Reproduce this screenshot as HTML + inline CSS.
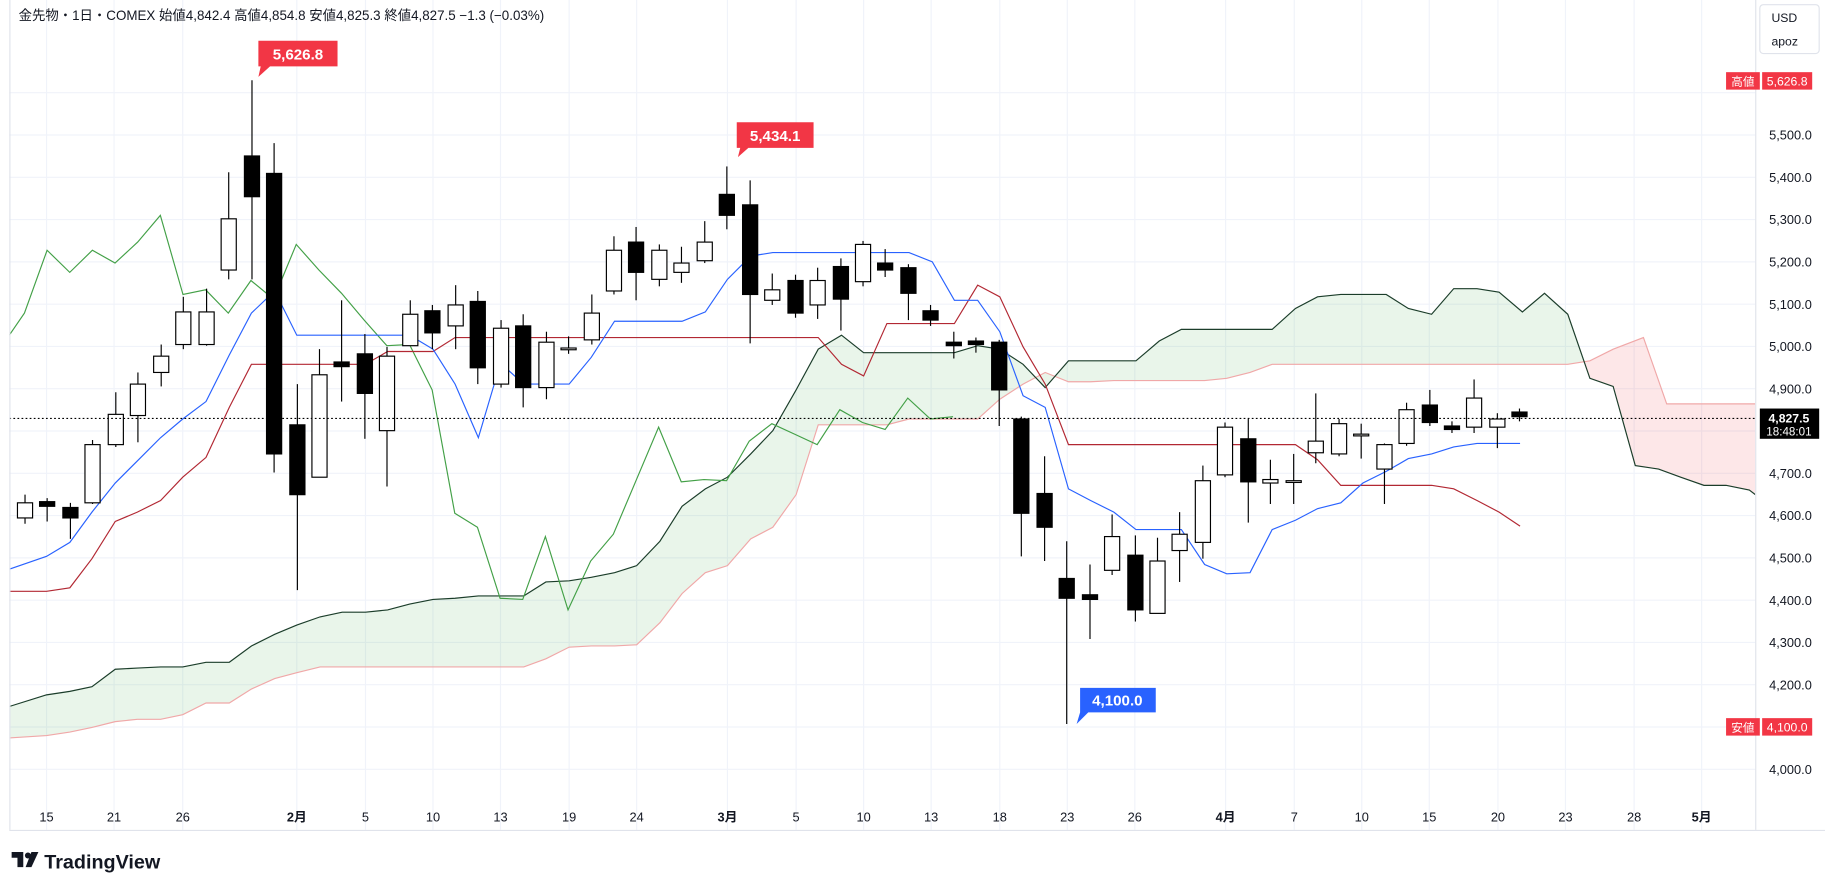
<!DOCTYPE html>
<html><head><meta charset="utf-8"><style>
html,body{margin:0;padding:0;background:#fff;}
svg{display:block;}
text{font-family:"Liberation Sans","Noto Sans CJK JP",sans-serif;}
</style></head><body>
<svg id="s" width="1825" height="884" viewBox="0 0 1568 759.5" preserveAspectRatio="none" xmlns="http://www.w3.org/2000/svg">
<rect x="0" y="0" width="1568" height="759.5" fill="#fff"/>
<g id="grid" stroke="#f0f3fa" stroke-width="1"></g>
<defs>
<clipPath id="cg"><rect x="0" y="0" width="1360" height="720"/></clipPath>
<clipPath id="cp"><rect x="1360" y="0" width="148" height="720"/></clipPath>
<clipPath id="plot"><rect x="8" y="0" width="1500" height="713"/></clipPath>
</defs>
<g id="chart" clip-path="url(#plot)"></g>
<line x1="8" y1="713.5" x2="1568" y2="713.5" stroke="#e0e3eb"/>
<line x1="1508.5" y1="0" x2="1508.5" y2="713" stroke="#e0e3eb"/>
<line x1="8.5" y1="0" x2="8.5" y2="713" stroke="#e0e3eb"/>
<g id="xl" font-size="11" fill="#131722" text-anchor="middle"></g>
<g id="yl" font-size="11" fill="#131722"></g>
<text x="16" y="17" font-size="11.5" fill="#131722">金先物・1日・COMEX  始値4,842.4  高値4,854.8  安値4,825.3  終値4,827.5  −1.3 (−0.03%)</text>
<rect x="1512" y="4" width="51" height="42" rx="3" fill="#fff" stroke="#e0e3eb"/>
<text x="1522" y="19" font-size="10.5" fill="#131722">USD</text>
<text x="1522" y="39" font-size="10.5" fill="#131722">apoz</text>
<!-- callouts -->
<path d="M222,35 h68 v22 h-58 l-10,9 l2,-9 h-2 z" fill="#f23645"/>
<text x="256" y="51" font-size="13" font-weight="bold" fill="#fff" text-anchor="middle">5,626.8</text>
<path d="M633,105 h66 v22 h-56 l-9,8 l2,-8 h-3 z" fill="#f23645"/>
<text x="666" y="121" font-size="13" font-weight="bold" fill="#fff" text-anchor="middle">5,434.1</text>
<path d="M928,591 h65 v21 h-58 l-10,10 l3,-10 z" fill="#2962ff"/>
<text x="960" y="606" font-size="13" font-weight="bold" fill="#fff" text-anchor="middle">4,100.0</text>
<!-- right axis tags -->
<rect x="1483" y="62" width="29" height="15" fill="#f23645"/><text x="1497.5" y="73.5" font-size="10" fill="#fff" text-anchor="middle">高値</text>
<rect x="1514" y="62" width="43" height="15" fill="#f23645"/><text x="1535.5" y="73.5" font-size="10.5" fill="#fff" text-anchor="middle">5,626.8</text>
<rect x="1483" y="617" width="29" height="15" fill="#f23645"/><text x="1497.5" y="628.5" font-size="10" fill="#fff" text-anchor="middle">安値</text>
<rect x="1514" y="617" width="43" height="15" fill="#f23645"/><text x="1535.5" y="628.5" font-size="10.5" fill="#fff" text-anchor="middle">4,100.0</text>
<rect x="1512" y="351" width="51" height="26" fill="#000"/>
<text x="1537" y="363" font-size="10.5" font-weight="bold" fill="#fff" text-anchor="middle">4,827.5</text>
<text x="1537" y="374" font-size="10" fill="#fff" text-anchor="middle">18:48:01</text>
<!-- logo -->
<g transform="translate(10,732)"><path d="M0,0 h10 v13 h-5 v-8 h-5 z" fill="#131722"/><circle cx="14" cy="3" r="2.6" fill="#131722"/><path d="M17,0 h6 l-6,13 h-5 z" fill="#131722"/></g>
<text x="38" y="746" font-size="17" font-weight="bold" fill="#131722">TradingView</text>
</svg>
<script>
const NS="http://www.w3.org/2000/svg";
function el(p,t,a){const e=document.createElementNS(NS,t);for(const k in a)e.setAttribute(k,a[k]);p.appendChild(e);return e;}
const S=document.getElementById('s'),G=document.getElementById('grid'),C=document.getElementById('chart');
const py=p=>116+(5500-p)*0.3633;
const yl=document.getElementById('yl');
for(let p=4000;p<=5600;p+=100){const y=py(p);el(G,'line',{x1:8,x2:1508,y1:y,y2:y});
 if(p!==5600){const t=el(yl,'text',{x:1520,y:y+4});t.textContent=p.toLocaleString('en-US')+'.0';}}
const xs=[[40,'15'],[98,'21'],[157,'26'],[255,'2月'],[314,'5'],[372,'10'],[430,'13'],[489,'19'],[547,'24'],[625,'3月'],[684,'5'],[742,'10'],[800,'13'],[859,'18'],[917,'23'],[975,'26'],[1053,'4月'],[1112,'7'],[1170,'10'],[1228,'15'],[1287,'20'],[1345,'23'],[1404,'28'],[1462,'5月']];
const xl=document.getElementById('xl');
xs.forEach(([x,l])=>{el(G,'line',{x1:x,x2:x,y1:0,y2:713});const t=el(xl,'text',{x:x,y:706});t.textContent=l;if(l.includes('月'))t.setAttribute('font-weight','bold');});
const P=s=>s.trim().split(/\s+/).map(v=>v.split(',').map(Number));
const A=P(`8,607 40,597 60,594 79,590 99,575 118,574 138,573 157,573 177,569 197,569 216,555 236,545 255,537 275,530 294,526 314,526 333,524 352,519 372,515 391,514 411,512 430,512 450,512 469,500 489,499 508,496 528,492 547,486 567,465 586,435 606,420 625,410 645,390 664,370 684,335 703,300 723,288 742,303 762,303 781,303 801,303 820,303 840,297 859,300 879,313 898,333 918,310 937,310 957,310 976,310 996,293 1015,283 1035,283 1054,283 1074,283 1093,283 1113,265 1132,255 1152,253 1171,253 1191,253 1210,265 1230,270 1249,248 1269,248 1288,251 1308,268 1327,252 1347,270 1366,325 1386,332 1405,400 1425,403 1444,410 1464,417 1483,417 1503,421 1512,428`);
const B=P(`8,634 40,632 60,629 79,625 99,620 118,618 138,618 157,614 177,604 197,604 216,592 236,583 255,578 275,573 450,573 469,566 489,556 508,555 528,555 547,554 567,535 586,510 606,492 625,486 645,463 664,453 684,425 703,365 723,365 742,365 762,365 781,360 801,360 820,360 840,360 859,343 879,330 898,320 918,328 937,328 957,327 976,327 996,327 1015,327 1035,327 1054,325 1074,320 1093,313 1113,313 1347,313 1366,310 1386,300 1412,290 1432,347 1512,347`);
const pts=a=>a.map(p=>p.join(',')).join(' ');
const poly=pts(A)+' '+pts(B.slice().reverse());
el(C,'polygon',{points:poly,fill:'rgba(76,175,80,0.12)','clip-path':'url(#cg)'});
el(C,'polygon',{points:poly,fill:'rgba(242,54,69,0.12)','clip-path':'url(#cp)'});
el(C,'polyline',{points:pts(B),fill:'none',stroke:'#f0a8a8','stroke-width':1});
el(C,'polyline',{points:pts(A),fill:'none',stroke:'#1b3d2a','stroke-width':1});
// candles [top,bot,hi,lo,black]
const K=[[432,445,425,450,0],[431,435,428,448,1],[436,445,432,463,1],[382,432,378,433,0],[356,382,337,384,0],[330,357,320,380,0],[306,320,296,332,0],[268,296,255,300,0],[268,296,248,297,0],[188,232,148,240,0],[134,169,69,240,1],[149,390,123,406,1],[365,425,330,507,1],[322,410,300,410,0],[311,315,258,345,1],[304,338,287,377,1],[306,370,298,418,0],[270,297,258,297,0],[267,286,262,300,1],[262,280,245,300,0],[259,316,250,330,1],[282,330,275,333,0],[280,333,270,350,1],[294,333,285,343,0],[299,299,289,304,0],[269,292,253,296,0],[215,250,203,253,0],[208,234,195,258,1],[215,240,210,246,0],[226,234,212,243,0],[208,224,190,226,0],[167,185,143,197,1],[176,253,155,295,1],[249,258,235,262,0],[241,269,236,273,1],[241,262,230,274,0],[229,257,222,284,1],[210,242,207,246,0],[226,232,214,238,1],[230,252,227,275,1],[267,275,262,280,1],[294,297,285,308,1],[293,296,290,303,1],[294,335,292,366,1],[360,441,358,478,1],[424,453,392,482,1],[497,514,465,622,1],[511,515,485,549,1],[461,490,442,494,0],[477,524,460,534,1],[482,527,462,527,0],[459,473,440,500,0],[413,466,400,480,0],[367,408,363,410,0],[377,414,360,449,1],[412,415,395,433,0],[413,413,390,433,0],[379,389,338,398,0],[364,390,360,392,0],[373,373,364,394,0],[382,403,381,433,0],[352,381,346,383,0],[348,363,335,366,1],[366,369,362,372,1],[342,367,326,372,0],[360,367,355,385,0],[354,358,351,362,1]];
const bx=i=>21+19.46*i;
// chikou
const ch=[[8,288]];K.slice(25).forEach((k,j)=>ch.push([bx(j),k[4]?k[1]:k[0]]));
el(C,'polyline',{points:pts(ch),fill:'none',stroke:'#43a047','stroke-width':1});
const T=P(`8,489 40,478 60,466 79,440 99,415 118,396 138,376 157,360 177,345 197,305 216,269 236,250 255,288 352,288 372,300 391,330 411,376 430,312 450,330 489,330 508,307 528,276 586,276 606,268 625,240 645,220 664,217 781,217 801,225 820,258 840,258 859,285 879,340 898,350 918,420 937,430 957,440 976,455 1015,455 1035,485 1054,493 1074,492 1093,455 1113,447 1132,437 1152,432 1171,415 1191,405 1210,394 1230,390 1249,384 1269,381 1306,381`);
const R=P(`8,508 40,508 60,505 79,480 99,448 118,440 138,430 157,410 177,393 197,350 216,313 314,313 333,302 372,302 391,290 703,290 723,313 742,323 762,278 820,278 840,245 859,255 879,298 898,330 918,382 1113,382 1132,395 1152,417 1230,417 1249,420 1269,430 1288,440 1306,452`);
el(C,'polyline',{points:pts(R),fill:'none',stroke:'#b22833','stroke-width':1});
el(C,'polyline',{points:pts(T),fill:'none',stroke:'#2962ff','stroke-width':1});
K.forEach((k,i)=>{const x=Math.round(bx(i))+0.5;
 el(C,'line',{x1:x,x2:x,y1:k[2],y2:k[3],stroke:'#000','stroke-width':1});
 const h=Math.max(k[1]-k[0],1.5);
 el(C,'rect',{x:x-6.5,y:k[0],width:13,height:h,fill:k[4]?'#000':'#fff',stroke:'#000','stroke-width':1});});
el(C,'line',{x1:8,x2:1508,y1:359.5,y2:359.5,stroke:'#000','stroke-width':1,'stroke-dasharray':'1.5,2'});
</script>
</body></html>
